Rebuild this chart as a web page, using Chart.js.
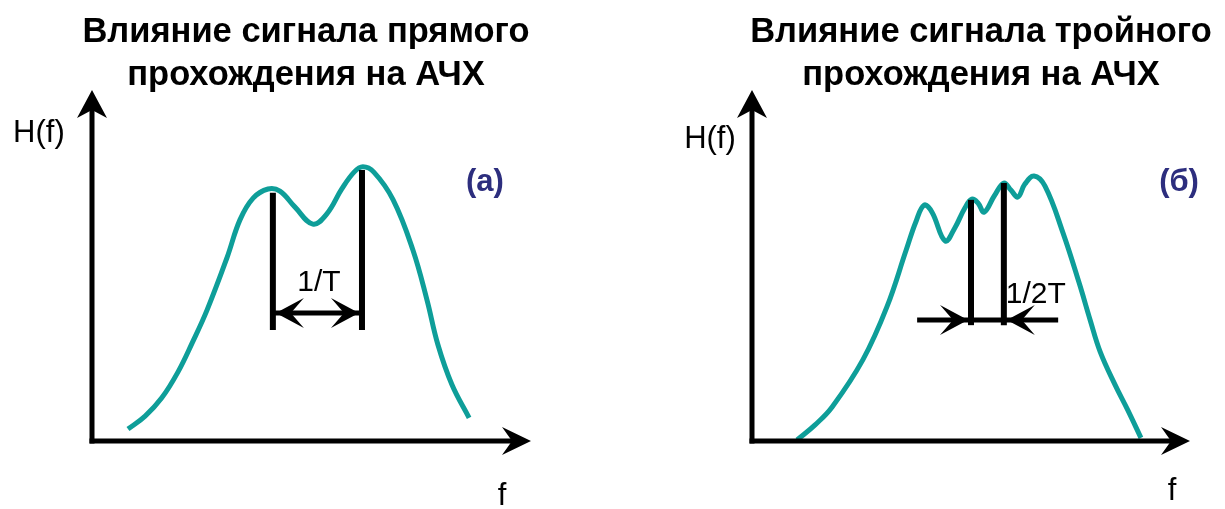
<!DOCTYPE html>
<html><head><meta charset="utf-8">
<script src="https://cdn.jsdelivr.net/npm/chart.js@4.4.1/dist/chart.umd.min.js"></script>
<style>
html,body{margin:0;padding:0;background:#fff;width:1225px;height:509px;overflow:hidden;}
.wrap{position:absolute;top:0;height:509px;}
.title{position:absolute;top:9px;font:bold 34.5px "Liberation Sans",Arial,sans-serif;line-height:43px;text-align:center;color:#000;white-space:nowrap;}
</style></head><body>
<div class="wrap" style="left:0;width:612px"><canvas id="c1" width="612" height="509" style="width:612px;height:509px"></canvas></div>
<div class="wrap" style="left:612px;width:613px"><canvas id="c2" width="613" height="509" style="width:613px;height:509px"></canvas></div>
<div class="title" style="left:0;width:612px">Влияние сигнала прямого<br>прохождения на АЧХ</div>
<div class="title" style="left:741px;width:480px">Влияние сигнала тройного<br>прохождения на АЧХ</div>
<script>
// ---- data (frequency axis 0..100, response axis 0..100, arbitrary units) ----
const leftFreq = [8.2, 12.1, 15.9, 19.6, 22.8, 26.2, 30.8, 33.7, 36.7, 40.1, 42.8, 46.2, 50.3, 53.5, 56.9, 59.7, 61.7, 64.2, 68.6, 73.1, 76.3, 78.8, 82.0, 85.9];
const leftGain = [3.4, 7.1, 12.3, 19.7, 27.9, 37.3, 52.4, 63.0, 69.2, 71.8, 71.2, 66.7, 61.8, 64.7, 71.8, 76.6, 78.1, 76.6, 68.7, 54.4, 40.2, 27.4, 16.0, 6.6];
const leftMarkerFreq = [41.2, 61.5];
const leftMarkerTop = [70.7, 77.2];
const leftMarkerBottom = 31.6;
const leftDimLevel = 36.5;

const rightFreq = [10.3, 14.4, 18.3, 25.3, 30.8, 35.2, 37.4, 39.3, 41.1, 44.1, 46.3, 48.6, 50.2, 51.6, 53.0, 55.3, 57.5, 59.1, 60.7, 62.3, 64.4, 66.9, 71.0, 74.7, 77.2, 79.5, 82.9, 85.8, 88.8];
const rightGain = [0.3, 4.6, 9.7, 23.1, 38.2, 54.4, 62.4, 67.2, 65.2, 57.0, 60.7, 66.4, 68.9, 67.8, 65.2, 69.8, 73.5, 71.5, 69.5, 73.2, 75.5, 72.6, 59.3, 45.0, 34.5, 25.4, 16.0, 8.8, 0.9];
const rightMarkerFreq = [50.0, 57.5];
const rightMarkerTop = [68.7, 73.5];
const rightMarkerBottom = 33.0;
const rightDimLevel = 34.5;
const rightDimSpan = [37.7, 69.9];

const TEAL = '#0e9e99';
const NAVY = '#2d2e7e';
const FONT = '"Liberation Sans", Arial, sans-serif';

function head(ctx, tx, ty, dx, dy, len, hw, notch) {
  const bx = tx - dx * len, by = ty - dy * len;
  const nx = -dy, ny = dx;
  ctx.beginPath();
  ctx.moveTo(tx, ty);
  ctx.lineTo(bx + nx * hw, by + ny * hw);
  ctx.lineTo(tx - dx * (len - notch), ty - dy * (len - notch));
  ctx.lineTo(bx - nx * hw, by - ny * hw);
  ctx.closePath();
  ctx.fill();
}

const sketchPlugin = {
  id: 'sketch',
  afterDatasetsDraw(chart, args, opts) {
    const ctx = chart.ctx, xs = chart.scales.x, ys = chart.scales.y;
    const px = v => xs.getPixelForValue(v), py = v => ys.getPixelForValue(v);
    ctx.save();
    ctx.fillStyle = '#000'; ctx.strokeStyle = '#000'; ctx.lineWidth = 5;
    const ox = px(0), oy = py(0), tipX = px(xs.max), tipY = py(ys.max);
    ctx.beginPath(); ctx.moveTo(ox, oy + 2.5); ctx.lineTo(ox, tipY + 18); ctx.stroke();
    ctx.beginPath(); ctx.moveTo(ox - 2.5, oy); ctx.lineTo(tipX - 18, oy); ctx.stroke();
    head(ctx, ox, tipY, 0, -1, 28, 15, 8);
    head(ctx, tipX, oy, 1, 0, 29, 14, 10);
    for (const a of opts.heads) {
      head(ctx, px(a.x) - a.dir * 3, py(a.y), a.dir, 0, 28, 15, 13);
    }
    ctx.restore();
  },
  afterDraw(chart, args, opts) {
    const ctx = chart.ctx, xs = chart.scales.x, ys = chart.scales.y;
    ctx.save();
    ctx.textAlign = 'center'; ctx.textBaseline = 'middle';
    for (const t of opts.labels) {
      ctx.font = t.font; ctx.fillStyle = t.color || '#000';
      ctx.fillText(t.text, xs.getPixelForValue(t.x), ys.getPixelForValue(t.y));
    }
    ctx.restore();
  }
};

function seg(x1, y1, x2, y2) { return [{x: x1, y: y1}, {x: x2, y: y2}]; }
function curve(fs, hs) { return fs.map((f, i) => ({x: f, y: hs[i]})); }
function blackLine(data) {
  return {data, borderColor: '#000', borderWidth: 6, pointRadius: 0, tension: 0, order: 1, borderCapStyle: 'butt'};
}

function makeChart(id, pad, freq, gain, mFreq, mTop, mBottom, dimFrom, dimTo, dimLevel, heads, labels) {
  return new Chart(document.getElementById(id), {
    type: 'line',
    data: {
      datasets: [
        {data: curve(freq, gain), borderColor: TEAL, borderWidth: 5, pointRadius: 0,
         tension: 0.4, order: 2, borderCapStyle: 'butt', borderJoinStyle: 'round'},
        blackLine(seg(mFreq[0], mBottom, mFreq[0], mTop[0])),
        blackLine(seg(mFreq[1], mBottom, mFreq[1], mTop[1])),
        Object.assign(blackLine(seg(dimFrom, dimLevel, dimTo, dimLevel)), {borderWidth: 5})
      ]
    },
    options: {
      responsive: false, animation: false, events: [],
      layout: {padding: pad},
      scales: {
        x: {type: 'linear', min: 0, max: 100, display: false},
        y: {type: 'linear', min: 0, max: 100, display: false}
      },
      plugins: {
        legend: {display: false}, tooltip: {enabled: false},
        sketch: {heads, labels}
      }
    },
    plugins: [sketchPlugin]
  });
}

makeChart('c1', {left: 92, right: 81, top: 90, bottom: 68},
  leftFreq, leftGain, leftMarkerFreq, leftMarkerTop, leftMarkerBottom,
  leftMarkerFreq[0], leftMarkerFreq[1], leftDimLevel,
  [{x: leftMarkerFreq[0], y: leftDimLevel, dir: -1}, {x: leftMarkerFreq[1], y: leftDimLevel, dir: 1}],
  [
    {text: 'H(f)', x: -12.1, y: 87.5, font: '31px ' + FONT},
    {text: 'f', x: 93.4, y: -15.7, font: '31px ' + FONT},
    {text: '(а)', x: 89.5, y: 73.8, font: 'bold 31px ' + FONT, color: NAVY},
    {text: '1/T', x: 51.7, y: 45.0, font: '30px ' + FONT}
  ]);

makeChart('c2', {left: 140, right: 35, top: 90, bottom: 68},
  rightFreq, rightGain, rightMarkerFreq, rightMarkerTop, rightMarkerBottom,
  rightDimSpan[0], rightDimSpan[1], rightDimLevel,
  [{x: rightMarkerFreq[0], y: rightDimLevel, dir: 1}, {x: rightMarkerFreq[1], y: rightDimLevel, dir: -1}],
  [
    {text: 'H(f)', x: -9.6, y: 85.8, font: '31px ' + FONT},
    {text: 'f', x: 95.9, y: -14.5, font: '31px ' + FONT},
    {text: '(б)', x: 97.5, y: 73.8, font: 'bold 31px ' + FONT, color: NAVY},
    {text: '1/2T', x: 64.8, y: 41.6, font: '30px ' + FONT}
  ]);
</script>
</body></html>
